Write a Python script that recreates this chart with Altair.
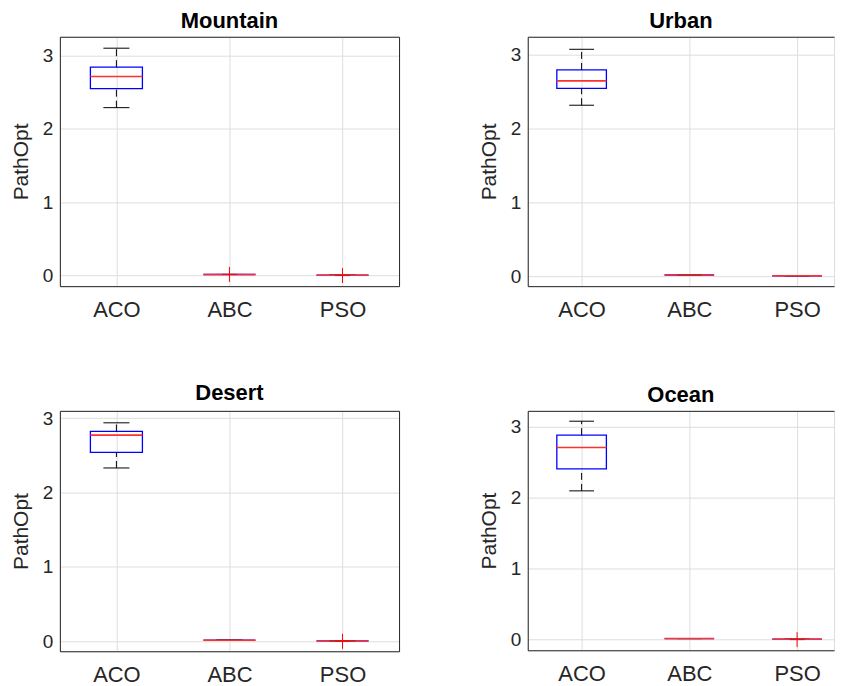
import altair as alt
import pandas as pd

scenarios = ["Mountain", "Urban", "Desert", "Ocean"]
algorithms = ["ACO", "ABC", "PSO"]

# box statistics, per scenario, in algorithm order ACO, ABC, PSO
lower_whisker = {"Mountain": [2.288, 0.015, 0.005], "Urban": [2.316, 0.015, 0.005],
                 "Desert": [2.330, 0.015, 0.005], "Ocean": [2.097, 0.015, 0.005]}
q1 = {"Mountain": [2.546, 0.015, 0.005], "Urban": [2.543, 0.015, 0.005],
      "Desert": [2.540, 0.015, 0.005], "Ocean": [2.407, 0.015, 0.005]}
median = {"Mountain": [2.713, 0.015, 0.005], "Urban": [2.646, 0.015, 0.005],
          "Desert": [2.772, 0.015, 0.005], "Ocean": [2.708, 0.015, 0.005]}
q3 = {"Mountain": [2.840, 0.015, 0.005], "Urban": [2.795, 0.015, 0.005],
      "Desert": [2.821, 0.015, 0.005], "Ocean": [2.882, 0.015, 0.005]}
upper_whisker = {"Mountain": [3.098, 0.015, 0.005], "Urban": [3.074, 0.015, 0.005],
                 "Desert": [2.937, 0.015, 0.005], "Ocean": [3.079, 0.015, 0.005]}

outlier_scenario = ["Mountain", "Mountain", "Desert", "Ocean"]
outlier_algorithm = ["ABC", "PSO", "PSO", "PSO"]
outlier_value = [0.016, 0.0, 0.0, 0.0]

y_domains = {"Mountain": [-0.144, 3.254], "Urban": [-0.136, 3.244],
             "Desert": [-0.134, 3.098], "Ocean": [-0.150, 3.225]}

rows = []
for s in scenarios:
    for i, a in enumerate(algorithms):
        rows.append({"scenario": s, "algo": a, "pos": i + 1,
                     "lo": lower_whisker[s][i], "q1": q1[s][i], "med": median[s][i],
                     "q3": q3[s][i], "hi": upper_whisker[s][i]})
box_df = pd.DataFrame(rows)
out_df = pd.DataFrame({"scenario": outlier_scenario, "algo": outlier_algorithm,
                       "val": outlier_value})
out_df["pos"] = out_df["algo"].map({a: i + 1 for i, a in enumerate(algorithms)})

FONT = "Liberation Sans"
AXC = "#262626"
HALF = 0.23
CAP = 0.115
PLUS = "M-1,0L1,0M0,-1L0,1"


def panel(name, width, height, xdom, right_border):
    d = box_df[box_df.scenario == name]
    o = out_df[out_df.scenario == name]
    xs = alt.Scale(domain=xdom, nice=False, zero=False)
    ys = alt.Scale(domain=y_domains[name], nice=False, zero=False)
    xaxis = alt.Axis(values=[1, 2, 3], labelExpr="['','ACO','ABC','PSO'][datum.value]",
                     title=None, ticks=False, tickSize=0, labelPadding=13, labelFontSize=22,
                     labelFont=FONT, labelColor=AXC, domainColor=AXC, domainWidth=1,
                     gridColor="#dedede", gridWidth=1, labelFlush=False)
    yaxis = alt.Axis(values=[0, 1, 2, 3], title="PathOpt", titleFont=FONT, titleFontSize=21,
                     titleFontWeight="normal", titleColor=AXC, titlePadding=10,
                     ticks=False, tickSize=0, labelPadding=7, labelFontSize=19,
                     labelFont=FONT, labelColor=AXC, domainColor=AXC, domainWidth=1,
                     gridColor="#dedede", gridWidth=1, minExtent=18, maxExtent=18,
                     labelFlush=False)
    base = alt.Chart(d).transform_calculate(
        xlo=f"datum.pos - {HALF}", xhi=f"datum.pos + {HALF}",
        clo=f"datum.pos - {CAP}", chi=f"datum.pos + {CAP}")

    box = base.mark_rect(fillOpacity=0, stroke="#0000ff", strokeWidth=1.3).encode(
        x=alt.X("xlo:Q", scale=xs, axis=xaxis), x2="xhi:Q",
        y=alt.Y("q1:Q", scale=ys, axis=yaxis), y2="q3:Q")
    wh_up = base.mark_rule(color="black", strokeWidth=1, strokeDash=[7, 4]).encode(
        x=alt.X("pos:Q", scale=xs, axis=None),
        y=alt.Y("q3:Q", scale=ys, axis=None), y2="hi:Q")
    wh_lo = base.mark_rule(color="black", strokeWidth=1, strokeDash=[7, 4]).encode(
        x=alt.X("pos:Q", scale=xs, axis=None),
        y=alt.Y("lo:Q", scale=ys, axis=None), y2="q1:Q")
    cap_up = base.mark_rule(color="black", strokeWidth=1).encode(
        x=alt.X("clo:Q", scale=xs, axis=None), x2="chi:Q",
        y=alt.Y("hi:Q", scale=ys, axis=None))
    cap_lo = base.mark_rule(color="black", strokeWidth=1).encode(
        x=alt.X("clo:Q", scale=xs, axis=None), x2="chi:Q",
        y=alt.Y("lo:Q", scale=ys, axis=None))
    med = base.mark_rule(color="#ff3030", strokeWidth=1.6).encode(
        x=alt.X("xlo:Q", scale=xs, axis=None), x2="xhi:Q",
        y=alt.Y("med:Q", scale=ys, axis=None))
    layers = [box, wh_up, wh_lo, cap_up, cap_lo, med]
    if len(o):
        outl = alt.Chart(o).mark_point(shape=PLUS, size=225, filled=False, color="#ff0000",
                                       strokeWidth=1, opacity=1).encode(
            x=alt.X("pos:Q", scale=xs, axis=None),
            y=alt.Y("val:Q", scale=ys, axis=None))
        layers.append(outl)
    top_axis = alt.Axis(orient="top", labels=False, ticks=False, grid=False, domain=True,
                        title=None, domainColor=AXC, domainWidth=1)
    if right_border:
        right_axis = alt.Axis(orient="right", labels=False, ticks=False, grid=False,
                              domain=True, title=None, domainColor=AXC, domainWidth=1)
        ry = alt.Y("q1:Q", scale=ys, axis=right_axis)
    else:
        ry = alt.Y("q1:Q", scale=ys, axis=None)
    frame = base.mark_point(opacity=0).encode(
        x=alt.X("pos:Q", scale=xs, axis=top_axis), y=ry)
    layers.append(frame)
    return alt.layer(*layers).resolve_axis(x="independent", y="independent").properties(
        width=width, height=height,
        title=alt.TitleParams(text=name, font=FONT, fontSize=22, fontWeight="bold",
                              color="black", offset=4, anchor="middle"))


LEFT_W = 340
RIGHT_W = 307
left_dom = [0.5, 3.5]
right_dom = [0.5, 0.5 + RIGHT_W / 108.0]

top_row = alt.hconcat(panel("Mountain", LEFT_W, 250, left_dom, True),
                      panel("Urban", RIGHT_W, 250, right_dom, False), spacing=78)
bottom_row = alt.hconcat(panel("Desert", LEFT_W, 241, left_dom, True),
                         panel("Ocean", RIGHT_W, 240, right_dom, False), spacing=78)

chart = alt.vconcat(top_row, bottom_row, spacing=60).properties(
    padding={"left": 2, "top": 0, "right": 0, "bottom": 0}
).configure_view(strokeWidth=0).configure(background="white")

chart.save("out.html", embed_options={"renderer": "svg", "actions": False})
